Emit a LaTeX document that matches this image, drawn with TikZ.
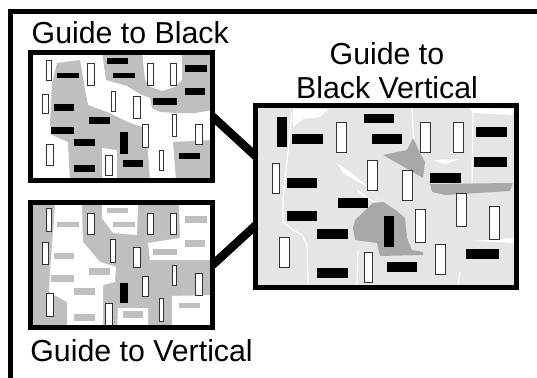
\documentclass[tikz,border=0pt]{standalone}
\usepackage{fontspec}
\setmainfont{Liberation Sans}
\definecolor{mgray}{gray}{0.75}
\definecolor{lgray}{gray}{0.9}
\definecolor{dgray}{gray}{0.66}
\begin{document}
\begin{tikzpicture}[x=1pt,y=-1pt,
  vr/.style={draw=black!80, fill=white, line width=0.7pt},
  bb/.style={fill=black},
  gb/.style={fill=mgray},
  crack/.style={draw=white, line width=1.2pt},
  frame/.style={draw=black, line width=5pt, inner sep=0pt, outer sep=0pt},
  conn/.style={draw=black, line width=8.5pt},
  lbl/.style={font=\fontsize{30.3}{33}\selectfont, inner sep=0pt}]
\useasboundingbox (0,0) rectangle (537,377);
\clip (0,0) rectangle (537,377);
\fill[white] (0,0) rectangle (537,377);
% outer frame
\draw[line width=5pt] (10,390) -- (10,12) -- (550,12);

% ---------- Guide to Black (top left) ----------
\fill[white] (30,52) rectangle (213,181);
\fill[mgray] (57,63) -- (80,60) -- (85,90) -- (88,105) -- (107,112) -- (130,123) -- (145,128) -- (148,153) -- (150,181) -- (117,181) -- (117,150) -- (102,148) -- (102,181) -- (70,181) -- (68,142) -- (52,135) -- (50,123) -- (52,83) -- cycle;
\fill[mgray] (102,52) -- (142,52) -- (145,80) -- (150,87) -- (162,91) -- (175,87) -- (182,80) -- (182,52) -- (213,52) -- (213,110) -- (195,113) -- (177,113) -- (160,112) -- (152,108) -- (150,98) -- (140,94) -- (127,86) -- (106,80) -- cycle;
\fill[mgray] (173,142) -- (213,140) -- (213,181) -- (176,181) -- cycle;
\foreach \a/\b/\c/\d in {46/60/51/80, 87/63/94/85, 147/63/153/85, 170/63/176/85, 42/94/48/113, 111/91/115/111, 133/96/140/118, 172/114/176/136, 142/124/148/147, 195/124/202/144, 46/144/53/165, 105/155/112/175, 159/150/163/170}
  \draw[vr] (\a,\b) rectangle (\c,\d);
\foreach \a/\b/\c/\d in {57/73/79/78, 107/58/128/64, 113/73/135/78, 185/65/207/72, 185/88/205/95, 153/98/177/105, 54/104/74/111, 89/117/110/124, 51/127/74/134, 74/139/95/146, 120/132/128/154, 123/160/143/167, 179/153/200/159, 74/165/95/172}
  \fill[bb] (\a,\b) rectangle (\c,\d);

% ---------- Guide to Vertical (bottom left) ----------
\fill[mgray] (30,202) rectangle (213,328);
\fill[white] (55,205) -- (82,205) -- (83,242) -- (100,262) -- (116,267) -- (115,282) -- (103,285) -- (103,330) -- (67,330) -- (67,302) -- (49,292) -- (50,272) -- cycle;
\fill[white] (102,205) -- (138,205) -- (137,235) -- (113,233) -- (102,218) -- cycle;
\fill[white] (179,205) -- (213,205) -- (213,260) -- (150,260) -- (148,243) -- (180,238) -- cycle;
\fill[white] (172,296) -- (213,295) -- (213,330) -- (172,330) -- cycle;
\fill[white] (118,308) -- (148,308) -- (148,330) -- (117,330) -- cycle;
\foreach \a/\b/\c/\d in {46/208/51/231, 87/213/94/234, 147/213/153/234, 170/213/176/234, 42/242/48/264, 110/239/115/262, 133/247/140/267, 172/265/176/285, 142/276/148/296, 195/273/202/295, 46/293/53/316, 105/303/112/326, 159/298/163/321}
  \draw[vr] (\a,\b) rectangle (\c,\d);
\foreach \a/\b/\c/\d in {57/222/79/227, 107/208/128/213, 113/222/135/227, 185/216/207/223, 185/240/205/247, 153/249/177/255, 54/253/74/259, 89/268/110/275, 51/275/74/282, 74/288/95/295, 123/311/143/318, 179/303/200/308, 74/314/95/321}
  \fill[gb] (\a,\b) rectangle (\c,\d);
\fill[bb] (120,283) rectangle (128,303);

% ---------- Guide to Black Vertical (right) ----------
\fill[lgray] (256,106) rectangle (517,288);
% light cracks
\fill[white] (293,127) -- (303,119) -- (320,117) -- (328,109) -- (293,109) -- cycle;
\draw[crack] (292,112) -- (283,200) -- (283,222) -- (293,230) -- (302,235) -- (307,245) -- (308,286);
\fill[white] (337,163) -- (343,173) -- (367,187) -- (377,197) -- (379,201) -- (372,190) -- (350,172) -- cycle;
\draw[crack] (357,190) -- (367,198) -- (375,202);
\draw[crack] (358,250) -- (357,286);
\draw[crack] (412,108) -- (414,147);
\draw[crack] (473,108) -- (472,190);
\fill[white] (470,108) -- (514,109) -- (512,115) -- (473,113) -- cycle;
\fill[white] (433,160) -- (460,159) -- (445,164) -- cycle;
\fill[white] (473,241) -- (514,238) -- (514,243) -- cycle;
\draw[crack] (460,272) -- (458,286);
% darker patches
\fill[dgray] (383,155) -- (407,150) -- (413,138) -- (420,153) -- (425,162) -- (423,178) -- (413,172) -- (397,163) -- cycle;
\fill[dgray] (430,184) -- (513,183) -- (510,191) -- (478,193) -- (445,195) -- (432,192) -- cycle;
\fill[dgray] (355,220) -- (373,203) -- (383,202) -- (397,211) -- (405,218) -- (407,238) -- (412,250) -- (423,252) -- (423,255) -- (380,256) -- (377,243) -- (355,240) -- (353,228) -- cycle;
\foreach \a/\b/\c/\d in {336/122/346/152, 420/122/430/152, 453/122/463/152, 272/163/279/193, 367/160/377/190, 402/170/412/200, 456/193/466/226, 489/206/499/239, 415/209/425/242, 279/237/289/267, 364/252/372/282, 435/244/445/274}
  \draw[vr] (\a,\b) rectangle (\c,\d);
\foreach \a/\b/\c/\d in {277/117/287/147, 384/216/394/247, 292/134/323/144, 364/114/394/123, 372/134/402/144, 476/127/507/137, 474/157/507/167, 430/173/461/183, 287/178/317/188, 338/198/368/208, 287/211/317/221, 317/229/348/239, 317/268/348/278, 387/262/417/272, 466/249/499/259}
  \fill[bb] (\a,\b) rectangle (\c,\d);

% ---------- frames, connectors, labels ----------
\node[frame, minimum width=182pt, minimum height=128pt] (black) at (121.5,116.5) {};
\node[frame, minimum width=182pt, minimum height=125pt] (vert) at (121.5,265) {};
\node[frame, minimum width=261pt, minimum height=182pt] (big) at (386,196.5) {};
\draw[conn] (black.east) -- ([yshift=40.5pt]big.west);
\draw[conn] (vert.east) -- ([yshift=-29pt]big.west);
\node[lbl, anchor=base west] (lblack) at (31.5,43.5) {Guide to Black};
\node[lbl, anchor=base west] (lvert) at (30.2,361.7) {Guide to Vertical};
\node[lbl, anchor=base] (lbig1) at (387,65) {Guide to};
\node[lbl, anchor=base] (lbig2) at (387,98.3) {Black Vertical};
\end{tikzpicture}
\end{document}
